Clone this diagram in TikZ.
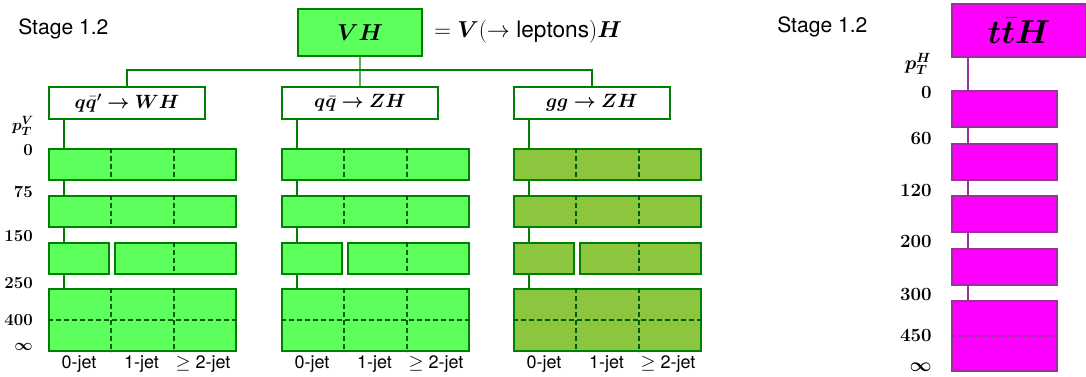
\documentclass[tikz,border=0pt]{standalone}
\usepackage{fontspec}
\setsansfont{TeX Gyre Heros}
\usepackage{amsmath,bm}
\usetikzlibrary{calc}
\definecolor{lgreen}{RGB}{92,255,92}
\definecolor{dgreen}{RGB}{0,128,0}
\definecolor{olivebin}{RGB}{140,198,63}
\definecolor{magbin}{RGB}{255,0,255}
\definecolor{purpline}{RGB}{153,51,153}
\newcommand\myStageFont{\fontsize{15.8}{18}\selectfont\sffamily}
\newcommand\myJetFont{\fontsize{13.5}{15}\selectfont\sffamily}
\newcommand\myNumFont{\fontsize{12.6}{14}\selectfont\bfseries}
\newcommand\myNumFontR{\fontsize{14}{16}\selectfont\bfseries}
\newcommand\myLvlFont{\fontsize{14}{16}\selectfont}
\tikzset{
  boxat/.style n args={4}{anchor=north west, at={(#1,#2)},
     minimum width={((#3)-(#1))*0.75pt}, minimum height={((#4)-(#2))*0.75pt}},
  binbox/.style={draw=dgreen, line width=1.5pt, inner sep=0pt, shape=rectangle},
  procbox/.style={draw=dgreen, line width=1.4pt, fill=white, inner sep=0pt, shape=rectangle},
  topbox/.style={draw=dgreen, line width=1.6pt, fill=lgreen, inner sep=0pt, shape=rectangle},
  magbox/.style={draw=purpline, line width=1.5pt, fill=magbin, inner sep=0pt, shape=rectangle},
  link/.style={draw=dgreen, line width=0.9pt},
  maglink/.style={draw=purpline, line width=0.9pt},
  splitline/.style={draw=dgreen!75!black, line width=0.85pt, dash pattern=on 3.5pt off 2.5pt},
  magsplit/.style={draw=purpline, line width=0.8pt, dash pattern=on 3.5pt off 2.5pt},
  jetlabel/.style={inner sep=0pt, font=\myJetFont},
  numlabel/.style={inner sep=0pt, anchor=east, font=\myNumFont},
  numlabelR/.style={inner sep=0pt, anchor=east, font=\myNumFontR},
  stagelabel/.style={inner sep=0pt, anchor=west, font=\myStageFont},
}
\begin{document}
\begin{tikzpicture}[x=0.75pt,y=-0.75pt]
\useasboundingbox (0,0) rectangle (1086,376);

% ---------- VH tree ----------
\node[stagelabel] (stageL) at (18,29) {Stage 1.2};
\node[topbox, boxat={297}{8}{421}{55}] (VH) {\fontsize{16}{18}\selectfont$\bm{VH}$};
\node[anchor=west, inner sep=0pt] (VHdef) at (434,32)
  {\fontsize{17}{20}\selectfont$=\bm{V}(\rightarrow\textsf{leptons})\bm{H}$};

\foreach \o/\f/\n/\t in {0/lgreen/A/{$\bm{q\bar{q}'\rightarrow WH}$},
                         233/lgreen/B/{$\bm{q\bar{q}\rightarrow ZH}$},
                         465/olivebin/C/{$\bm{gg\rightarrow ZH}$}}{
  \node[procbox, boxat={48+\o}{86}{204+\o}{118}] (\n-L) {\myLvlFont\t};
  \node[binbox, fill=\f, boxat={48+\o}{148}{235+\o}{179}] (\n-b1) {};
  \node[binbox, fill=\f, boxat={48+\o}{195}{235+\o}{226}] (\n-b2) {};
  \node[binbox, fill=\f, boxat={48+\o}{242}{107.5+\o}{273}] (\n-b3a) {};
  \node[binbox, fill=\f, boxat={113.5+\o}{242}{235+\o}{273}] (\n-b3b) {};
  \node[binbox, fill=\f, boxat={48+\o}{288}{235+\o}{350}] (\n-b4) {};
  % connectors
  \coordinate (\n-s) at ([xshift=12pt]\n-L.south west);
  \draw[link] (\n-s) -- (\n-s |- \n-b1.north);
  \draw[link] (\n-s |- \n-b1.south) -- (\n-s |- \n-b2.north);
  \draw[link] (\n-s |- \n-b2.south) -- (\n-s |- \n-b3a.north);
  \draw[link] (\n-s |- \n-b3a.south) -- (\n-s |- \n-b4.north);
  % jet splits
  \coordinate (\n-t1) at ($(\n-b1.north west)!1/3!(\n-b1.north east)$);
  \coordinate (\n-t2) at ($(\n-b1.north west)!2/3!(\n-b1.north east)$);
  \draw[splitline] (\n-t1 |- \n-b1.north) -- (\n-t1 |- \n-b1.south);
  \draw[splitline] (\n-t2 |- \n-b1.north) -- (\n-t2 |- \n-b1.south);
  \draw[splitline] (\n-t1 |- \n-b2.north) -- (\n-t1 |- \n-b2.south);
  \draw[splitline] (\n-t2 |- \n-b2.north) -- (\n-t2 |- \n-b2.south);
  \draw[splitline] (\n-t2 |- \n-b3b.north) -- (\n-t2 |- \n-b3b.south);
  \draw[splitline] (\n-t1 |- \n-b4.north) -- (\n-t1 |- \n-b4.south);
  \draw[splitline] (\n-t2 |- \n-b4.north) -- (\n-t2 |- \n-b4.south);
  \draw[splitline] (\n-b4.west) -- (\n-b4.east);
  % jet labels
  \node[jetlabel] (\n-j0) at (79+\o,364) {0-jet};
  \node[jetlabel] (\n-j1) at (141.5+\o,364) {1-jet};
  \node[jetlabel] (\n-j2) at (203+\o,364) {$\geq$ 2-jet};
}

\coordinate (junc) at (VH.south |- 0,70);
\draw[link] (VH.south) -- (B-L.north);
\draw[link] (A-L.north) -- (A-L.north |- junc) -- (C-L.north |- junc) -- (C-L.north);

% pT^V labels
\node[inner sep=0pt] (ptV) at (23,126) {\fontsize{13}{15}\selectfont$\bm{p_T^V}$};
\node[numlabel] (nA0) at (33,150) {0};
\node[numlabel] (nA1) at (33,191.5) {75};
\node[numlabel] (nA2) at (33,236.5) {150};
\node[numlabel] (nA3) at (33,283) {250};
\node[numlabel] (nA4) at (33,320) {400};
\node[numlabel] (nA5) at (33,347) {$\bm{\infty}$};

% ---------- ttH ----------
\node[stagelabel] (stageR) at (777,27) {Stage 1.2};
\node[magbox, boxat={951}{3}{1085}{56}] (ttH) {\fontsize{24}{28}\selectfont$\bm{t\bar{t}H}$};
\node[magbox, boxat={951}{90}{1056}{126}] (r1) {};
\node[magbox, boxat={951}{142.5}{1056}{178.5}] (r2) {};
\node[magbox, boxat={951}{195}{1056}{231}] (r3) {};
\node[magbox, boxat={951}{247.5}{1056}{283.5}] (r4) {};
\node[magbox, boxat={951}{300}{1056}{370}] (r5) {};
\coordinate (rs) at ([xshift=12.75pt]ttH.south west);
\draw[maglink] (rs) -- (rs |- r1.north);
\draw[maglink] (rs |- r1.south) -- (rs |- r2.north);
\draw[maglink] (rs |- r2.south) -- (rs |- r3.north);
\draw[maglink] (rs |- r3.south) -- (rs |- r4.north);
\draw[maglink] (rs |- r4.south) -- (rs |- r5.north);
\draw[magsplit] (r5.west) -- (r5.east);

\node[inner sep=0pt] (ptH) at (918,64) {\fontsize{14}{16}\selectfont$\bm{p_T^H}$};
\node[numlabelR] (nR0) at (932,92.5) {0};
\node[numlabelR] (nR1) at (932,138) {60};
\node[numlabelR] (nR2) at (932,190) {120};
\node[numlabelR] (nR3) at (932,241.5) {200};
\node[numlabelR] (nR4) at (932,294) {300};
\node[numlabelR] (nR5) at (932,335.5) {450};
\node[numlabelR] (nR6) at (932,367) {$\bm{\infty}$};
\end{tikzpicture}
\end{document}
